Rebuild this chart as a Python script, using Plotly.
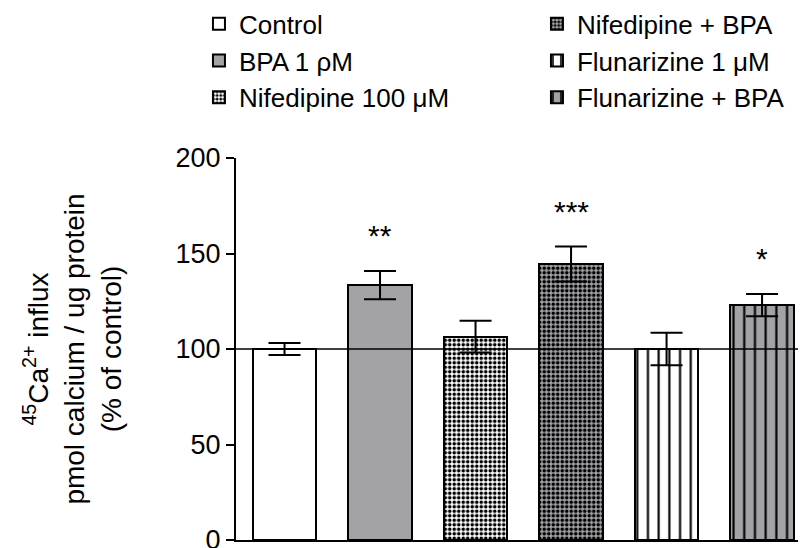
import plotly.graph_objects as go

# ---- data ----
groups = ["Control", "BPA 1 ρM", "Nifedipine 100 μM",
          "Nifedipine + BPA", "Flunarizine 1 μM", "Flunarizine + BPA"]
means = [100.0, 133.5, 106.5, 144.5, 100.0, 123.0]
sems = [3.2, 7.4, 8.3, 9.2, 8.5, 5.8]
stars = ["", "**", "", "***", "", "*"]
baseline = 100
y_ticks = [0, 50, 100, 150, 200]

GRAY = "#a3a2a7"
patterns = [
    dict(shape="", bgcolor="white", fgcolor="white"),
    dict(shape="", bgcolor=GRAY, fgcolor=GRAY),
    dict(shape=".", bgcolor="white", fgcolor="black", size=4.5, solidity=0.5, fillmode="replace"),
    dict(shape=".", bgcolor=GRAY, fgcolor="black", size=4.5, solidity=0.5, fillmode="replace"),
    dict(shape="|", bgcolor="white", fgcolor="black", size=10.7, solidity=0.2, fillmode="replace"),
    dict(shape="|", bgcolor=GRAY, fgcolor="black", size=10.7, solidity=0.2, fillmode="replace"),
]
fills = ["white", GRAY, "white", GRAY, "white", GRAY]
legend_ids = ["legend", "legend", "legend", "legend2", "legend2", "legend2"]

FONT = "Liberation Sans, Arial, sans-serif"

fig = go.Figure()
for i, g in enumerate(groups):
    fig.add_trace(go.Bar(
        x=[i], y=[means[i]], name=g, width=0.665,
        marker=dict(color=fills[i], line=dict(color="black", width=2),
                    pattern=patterns[i]),
        error_y=dict(type="data", array=[sems[i]], color="black",
                     thickness=2, width=16),
        legend=legend_ids[i],
    ))

for i, s in enumerate(stars):
    if s:
        fig.add_annotation(x=i, y=means[i] + sems[i], text=s, showarrow=False,
                           xref="x", yref="y", yanchor="middle", yshift=35,
                           font=dict(size=30, color="black", family=FONT))

fig.add_shape(type="line", xref="paper", yref="y", x0=0, x1=1,
              y0=baseline, y1=baseline, line=dict(color="black", width=1.5),
              layer="above")

# page body has an 8px margin, so the figure is drawn 8px smaller / offset
fig.update_layout(
    width=798, height=540,
    margin=dict(l=228, r=0, t=150, b=8, autoexpand=False),
    paper_bgcolor="white", plot_bgcolor="white",
    font=dict(family=FONT, size=27, color="black"),
    bargap=0,
    legend=dict(x=-0.065, y=1.413, xanchor="left", yanchor="top",
                font=dict(size=26), bgcolor="rgba(0,0,0,0)", tracegroupgap=0),
    legend2=dict(x=0.528, y=1.413, xanchor="left", yanchor="top",
                 font=dict(size=26), bgcolor="rgba(0,0,0,0)", tracegroupgap=0),
    xaxis=dict(range=[-0.508, 5.46], showgrid=False, zeroline=False,
               showline=True, linecolor="black", linewidth=2,
               showticklabels=False, ticks=""),
    yaxis=dict(range=[0, 200], tickvals=y_ticks, showgrid=False, zeroline=False,
               showline=True, linecolor="black", linewidth=2,
               ticks="outside", ticklen=8, tickwidth=2, tickcolor="black",
               tickfont=dict(size=27), automargin=False,
               ticklabeloverflow="allow",
               title=dict(text="<sup>45</sup>Ca<sup>2+</sup> influx<br>pmol calcium / ug protein<br>(% of control)",
                          font=dict(size=28), standoff=46)),
)

fig.write_html("out.html")
